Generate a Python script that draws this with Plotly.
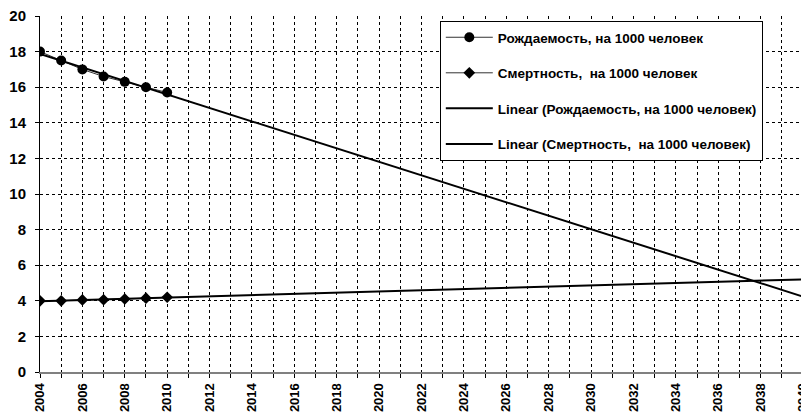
import numpy as np
import plotly.graph_objects as go

# ── data ─────────────────────────────────────────────────────────────────
years = [2004, 2005, 2006, 2007, 2008, 2009, 2010]
birth_rate = [18.0, 17.5, 17.0, 16.6, 16.3, 16.0, 15.7]
death_rate = [4.0, 4.0, 4.05, 4.06, 4.1, 4.15, 4.2]

trend_years = [2004, 2040]

name_birth = "Рождаемость, на 1000 человек"
name_death = "Смертность,  на 1000 человек"

FONT = "Liberation Sans, Arial, sans-serif"


def linear_trend(xs, ys, x_out):
    # Excel-style linear trendline, extended to the forecast horizon
    k, b = np.polyfit(xs, ys, 1)
    return [k * x + b for x in x_out]


fig = go.Figure()

fig.add_trace(go.Scatter(
    x=years, y=birth_rate, name=name_birth, mode="lines+markers",
    line=dict(color="#333333", width=1),
    marker=dict(symbol="circle", size=10, color="black"),
    legendgroup="a",
))
fig.add_trace(go.Scatter(
    x=years, y=death_rate, name=name_death, mode="lines+markers",
    line=dict(color="#333333", width=1),
    marker=dict(symbol="diamond", size=9, color="black"),
    legendgroup="b",
))
fig.add_trace(go.Scatter(
    x=trend_years, y=linear_trend(years, birth_rate, trend_years),
    name="Linear (Рождаемость, на 1000 человек)", mode="lines",
    line=dict(color="black", width=2),
    legendgroup="c",
))
fig.add_trace(go.Scatter(
    x=trend_years, y=linear_trend(years, death_rate, trend_years),
    name="Linear (Смертность,  на 1000 человек)", mode="lines",
    line=dict(color="black", width=2),
    legendgroup="d",
))

# page body has an 8px margin, so the figure is sized to fit the window
fig.update_layout(
    width=801, height=406,
    margin=dict(l=32, r=6, t=8, b=42, autoexpand=False),
    paper_bgcolor="white",
    plot_bgcolor="white",
    font=dict(family=FONT, color="black"),
    showlegend=True,
    legend=dict(
        x=0.524, y=0.986, xanchor="left", yanchor="top",
        bgcolor="white", bordercolor="black", borderwidth=1,
        font=dict(family=FONT, size=13.5, weight="bold", color="black"),
        tracegroupgap=15,
        itemwidth=47,
    ),
    xaxis=dict(
        range=[2004, 2040], dtick=2, tick0=2004,
        tickangle=-90,
        tickfont=dict(family=FONT, size=13, weight="bold"),
        ticklabeloverflow="allow",
        automargin=False,
        showgrid=True, griddash="dot", gridcolor="black", gridwidth=1,
        minor=dict(dtick=1, tick0=2004, showgrid=True, griddash="dot",
                   gridcolor="black", gridwidth=1, ticks="outside",
                   ticklen=4, tickcolor="black"),
        ticks="outside", ticklen=4, tickcolor="black",
        showline=True, linecolor="#808080", linewidth=2,
        zeroline=False,
    ),
    yaxis=dict(
        range=[0, 20], dtick=2,
        tickfont=dict(family=FONT, size=15, weight="bold"),
        ticklabeloverflow="allow",
        automargin=False,
        ticklabelstandoff=6,
        showgrid=True, griddash="dot", gridcolor="black", gridwidth=1,
        ticks="outside", ticklen=4, tickcolor="black",
        showline=True, linecolor="black", linewidth=1, mirror=True,
        zeroline=False,
    ),
)

fig.write_html("out.html")
